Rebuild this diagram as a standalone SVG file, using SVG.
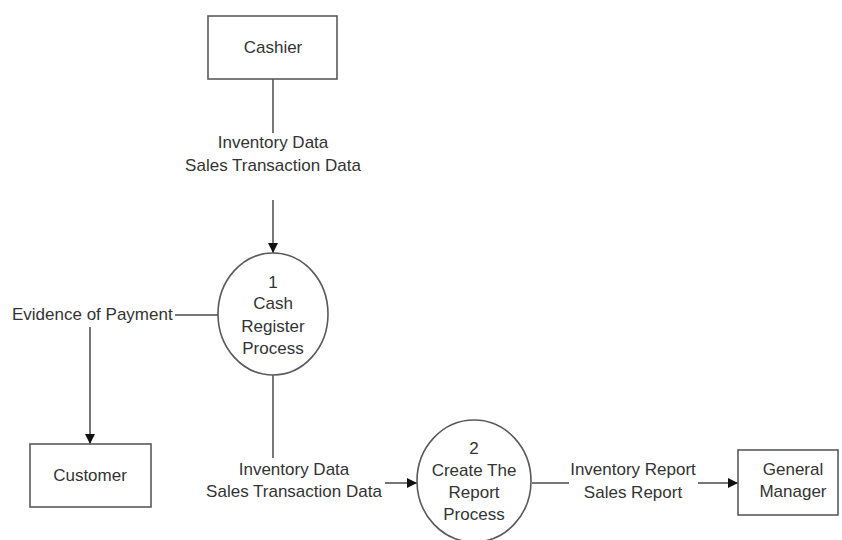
<svg xmlns="http://www.w3.org/2000/svg" width="842" height="540" viewBox="0 0 842 540">
  <style>
    .box { fill: #ffffff; stroke: #5a5a5a; stroke-width: 1.6; }
    .proc { fill: #ffffff; stroke: #5a5a5a; stroke-width: 1.6; }
    .flow { fill: none; stroke: #4a4a4a; stroke-width: 1.5; }
    text { font-family: "Liberation Sans", Arial, sans-serif; font-size: 17px; fill: #333333; }
    .c { text-anchor: middle; }
  </style>
  <defs>
    <marker id="arrow" viewBox="0 0 10 10" refX="10" refY="5" markerWidth="10" markerHeight="10" markerUnits="userSpaceOnUse" orient="auto">
      <path d="M0,0 L10,5 L0,10 Z" fill="#111111"/>
    </marker>
  </defs>
  <rect width="842" height="540" fill="#ffffff"/>

  <!-- data flows -->
  <g id="connectors">
    <line class="flow" x1="273" y1="79" x2="273" y2="133"/>
    <line class="flow" x1="273" y1="200" x2="273" y2="253" marker-end="url(#arrow)"/>
    <text class="c" x="273" y="148">Inventory Data</text>
    <text class="c" x="273" y="171">Sales Transaction Data</text>

    <line class="flow" x1="175" y1="315" x2="218" y2="315"/>
    <line class="flow" x1="90" y1="327" x2="90" y2="444" marker-end="url(#arrow)"/>
    <text x="12" y="320">Evidence of Payment</text>

    <line class="flow" x1="273" y1="375" x2="273" y2="458"/>
    <line class="flow" x1="385" y1="483" x2="417" y2="483" marker-end="url(#arrow)"/>
    <text class="c" x="294" y="475">Inventory Data</text>
    <text class="c" x="294" y="497">Sales Transaction Data</text>

    <line class="flow" x1="532" y1="483" x2="569" y2="483"/>
    <line class="flow" x1="698" y1="483" x2="738" y2="483" marker-end="url(#arrow)"/>
    <text class="c" x="633" y="475">Inventory Report</text>
    <text class="c" x="633" y="498">Sales Report</text>
  </g>

  <g id="cashier">
    <rect class="box" x="208" y="16" width="129" height="63"/>
    <text class="c" x="273" y="53">Cashier</text>
  </g>

  <g id="process-1">
    <ellipse class="proc" cx="273" cy="314" rx="55" ry="61"/>
    <text class="c" x="273" y="288">1</text>
    <text class="c" x="273" y="309">Cash</text>
    <text class="c" x="273" y="332">Register</text>
    <text class="c" x="273" y="354">Process</text>
  </g>

  <g id="customer">
    <rect class="box" x="30" y="444" width="121" height="63"/>
    <text class="c" x="90" y="481">Customer</text>
  </g>

  <g id="process-2">
    <ellipse class="proc" cx="474" cy="481" rx="57" ry="61"/>
    <text class="c" x="474" y="454">2</text>
    <text class="c" x="474" y="476">Create The</text>
    <text class="c" x="474" y="498">Report</text>
    <text class="c" x="474" y="520">Process</text>
  </g>

  <g id="general-manager">
    <rect class="box" x="738" y="450" width="100" height="65"/>
    <text class="c" x="793" y="475">General</text>
    <text class="c" x="793" y="497">Manager</text>
  </g>
</svg>
